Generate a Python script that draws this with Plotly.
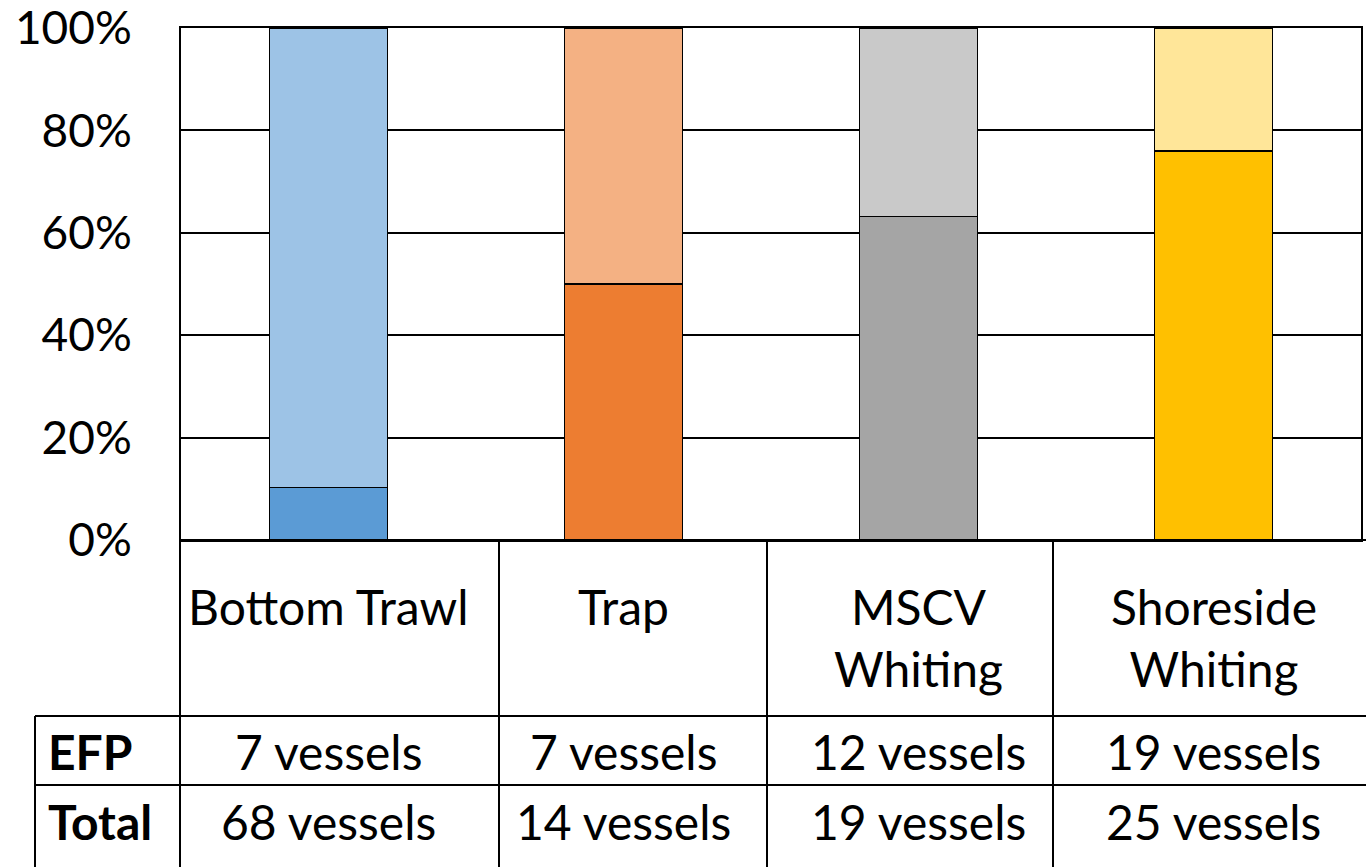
import plotly.graph_objects as go

categories = ["Bottom Trawl", "Trap", "MSCV Whiting", "Shoreside Whiting"]
category_labels = ["Bottom Trawl", "Trap", "MSCV<br>Whiting", "Shoreside<br>Whiting"]
efp_vessels = [7, 7, 12, 19]
total_vessels = [68, 14, 19, 25]
tick_values = [0, 0.2, 0.4, 0.6, 0.8, 1.0]
tick_labels = ["0%", "20%", "40%", "60%", "80%", "100%"]

efp_colors = ["#5B9BD5", "#ED7D31", "#A5A5A5", "#FFC000"]
rest_colors = ["#9DC3E6", "#F4B183", "#C9C9C9", "#FFE699"]

W, H = 1366, 867
L, R, T, B = 181, 1361, 28, 540  # plot area in pixels
FONT = "Lato"


def px_x(p):
    return (p - L) / (R - L)


def px_y(p):
    return (B - p) / (B - T)


efp_share = [e / t for e, t in zip(efp_vessels, total_vessels)]
rest_share = [1 - s for s in efp_share]

fig = go.Figure()
fig.add_trace(go.Bar(x=categories, y=efp_share, marker=dict(color=efp_colors, line=dict(color="black", width=1.5)),
                     width=0.4, hoverinfo="skip"))
fig.add_trace(go.Bar(x=categories, y=rest_share, marker=dict(color=rest_colors, line=dict(color="black", width=1.5)),
                     width=0.4, hoverinfo="skip"))

# table grid lines
line = dict(color="black", width=2)
for y0 in [540, 716, 785]:
    x0 = 180 if y0 == 540 else 35
    fig.add_shape(type="line", xref="paper", yref="paper", x0=px_x(x0), x1=px_x(1366),
                  y0=px_y(y0), y1=px_y(y0), line=line)
for x0 in [180, 499, 767, 1053]:
    fig.add_shape(type="line", xref="paper", yref="paper", x0=px_x(x0), x1=px_x(x0),
                  y0=px_y(540), y1=px_y(867), line=line)
fig.add_shape(type="line", xref="paper", yref="paper", x0=px_x(35), x1=px_x(35),
              y0=px_y(716), y1=px_y(867), line=line)

text_font = dict(family=FONT, size=48, color="black")
for cat, lab, e, t in zip(categories, category_labels, efp_vessels, total_vessels):
    fig.add_annotation(x=cat, xref="x", yref="paper", y=px_y(576), yanchor="top", text=lab,
                       showarrow=False, font=text_font, align="center")
    fig.add_annotation(x=cat, xref="x", yref="paper", y=px_y(751), yanchor="middle",
                       text=f"{e} vessels", showarrow=False, font=text_font)
    fig.add_annotation(x=cat, xref="x", yref="paper", y=px_y(821), yanchor="middle",
                       text=f"{t} vessels", showarrow=False, font=text_font)

for row, yy in [("EFP", 751), ("Total", 821)]:
    fig.add_annotation(x=px_x(46), xref="paper", yref="paper", y=px_y(yy), xanchor="left",
                       yanchor="middle", text=f"<b>{row}</b>", showarrow=False, font=text_font)

fig.update_layout(
    width=W, height=H, barmode="stack", showlegend=False,
    margin=dict(l=L, r=W - R, t=T, b=H - B, pad=0, autoexpand=False),
    plot_bgcolor="white", paper_bgcolor="white", bargap=0.6,
)
fig.update_xaxes(showticklabels=False, showline=True, linecolor="black", linewidth=2,
                 mirror=True, showgrid=False, ticks="", automargin=False)
fig.update_yaxes(range=[0, 1], tickvals=tick_values, ticktext=tick_labels, showgrid=True,
                 gridcolor="black", gridwidth=2, showline=True, linecolor="black", linewidth=2,
                 mirror=True, ticks="", ticklabelstandoff=38, zeroline=False,
                 ticklabeloverflow="allow", automargin=False,
                 tickfont=dict(family=FONT, size=46, color="black"))

fig.write_html("out.html", config={"displayModeBar": False},
               post_script="document.body.style.margin = '0';")
